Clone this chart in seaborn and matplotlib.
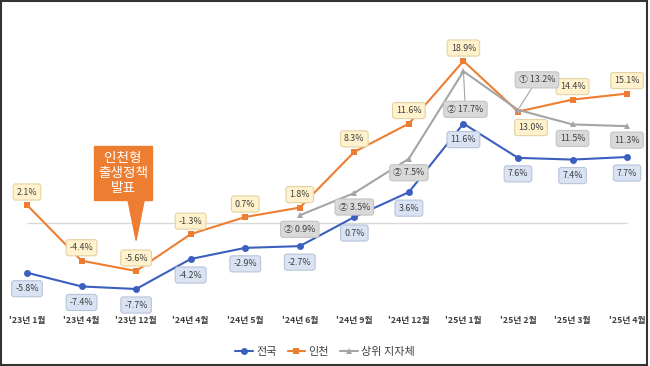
import pandas as pd
import numpy as np
import matplotlib
matplotlib.use("Agg")
import matplotlib.pyplot as plt
import seaborn as sns
from matplotlib.patches import Rectangle

# chart data
months = ["'23년 1월", "'23년 4월", "'23년 12월", "'24년 4월", "'24년 5월", "'24년 6월",
          "'24년 9월", "'24년 12월", "'25년 1월", "'25년 2월", "'25년 3월", "'25년 4월"]
national = [-5.8, -7.4, -7.7, -4.2, -2.9, -2.7, 0.7, 3.6, 11.6, 7.6, 7.4, 7.7]
incheon = [2.1, -4.4, -5.6, -1.3, 0.7, 1.8, 8.3, 11.6, 18.9, 13.0, 14.4, 15.1]
top_region = [np.nan, np.nan, np.nan, np.nan, np.nan, 0.9, 3.5, 7.5, 17.7, 13.2, 11.5, 11.3]
top_rank = ["", "", "", "", "", "②", "②", "②", "②", "①", "", ""]

series_names = ["전국", "인천", "상위 지자체"]
colors = {"전국": "#3A5FBF", "인천": "#ED7D31", "상위 지자체": "#A5A5A5"}
markers = {"전국": "o", "인천": "s", "상위 지자체": "^"}

rows = []
for name, vals in zip(series_names, [national, incheon, top_region]):
    for i, v in enumerate(vals):
        rows.append({"pos": i, "month": months[i], "series": name, "value": v})
df = pd.DataFrame(rows)

sns.set_style("white")
plt.rcParams['font.family'] = ['Noto Sans CJK KR', 'DejaVu Sans']

fig = plt.figure(figsize=(6.5, 3.66), dpi=100)
ax = fig.add_axes([0.0, 1 - 310 / 366, 1.0, 280 / 366])

ax.hlines(0, 0, len(months) - 1, color="#D9D9D9", lw=1, zorder=1)

sns.lineplot(data=df.dropna(), x="pos", y="value", hue="series", style="series",
             hue_order=series_names, style_order=series_names,
             palette=colors, markers=markers, dashes=False, sort=False,
             linewidth=1.5, markersize=5, markeredgewidth=0, ax=ax, zorder=3)

ax.set_xlim(-0.495, 11.42)
ax.set_ylim(-10.15, 22.52)
ax.set_xticks(range(len(months)))
ax.set_xticklabels(months, fontsize=6.3, color="#404040", fontweight="bold")
ax.tick_params(axis="x", length=0, pad=4)
ax.set_yticks([])
ax.set_xlabel("")
ax.set_ylabel("")
for s in ax.spines.values():
    s.set_visible(False)

box_style = {
    "전국": dict(boxstyle="round,pad=0.4,rounding_size=0.3", fc="#DAE3F3", ec="#B8C4D8", lw=0.8),
    "인천": dict(boxstyle="round,pad=0.4,rounding_size=0.3", fc="#FFF2CC", ec="#E2D3A4", lw=0.8),
    "상위 지자체": dict(boxstyle="round,pad=0.4,rounding_size=0.3", fc="#D9D9D9", ec="#C4C4C4", lw=0.8),
}

def label(x, v, text, name, dx, dy, leader=False):
    kw = {}
    if leader:
        kw["arrowprops"] = dict(arrowstyle="-", color="#A6A6A6", lw=0.8, shrinkA=0, shrinkB=2)
    ax.annotate(text, (x, v), xytext=(dx * 0.72, -dy * 0.72), textcoords="offset points",
                ha="center", va="center", fontsize=6.4, color="#404040",
                bbox=box_style[name], zorder=5, **kw)

# national labels below
for i, v in enumerate(national):
    label(i, v, f"{v:.1f}%", "전국", 0, 16)

# incheon labels above, except Feb '25 below
for i, v in enumerate(incheon):
    if i == 9:
        label(i, v, f"{v:.1f}%", "인천", 13, 16)
    else:
        label(i, v, f"{v:.1f}%", "인천", 0, -13)

# top region labels
for i, v in enumerate(top_region):
    if np.isnan(v):
        continue
    txt = f"{top_rank[i]} {v:.1f}%".strip()
    if i == 8:
        label(i, v, txt, "상위 지자체", 2, 38, leader=True)
    elif i == 9:
        label(i, v, txt, "상위 지자체", 19, -30, leader=True)
    else:
        label(i, v, txt, "상위 지자체", 0, 14)

# policy announcement callout
ax.annotate("", xy=(2, -2.0), xytext=(2, 3.2),
            arrowprops=dict(arrowstyle="wedge,tail_width=1.3,shrink_factor=0.5",
                            fc="#ED7D31", ec="#ED7D31", shrinkA=0, shrinkB=0), zorder=6)
ax.text(1.76, 5.85, "인천형\n출생정책\n발표", ha="center", va="center", fontsize=9.8,
        color="white", linespacing=1.12, zorder=7,
        bbox=dict(boxstyle="square,pad=0.32", fc="#ED7D31", ec="#ED7D31"))

# legend at bottom
handles, labels = ax.get_legend_handles_labels()
leg = ax.legend(handles, labels, loc="center", bbox_to_anchor=(0.5, 1 - 352 / 366),
                bbox_transform=fig.transFigure, ncol=3, frameon=False, fontsize=8,
                handlelength=1.6, handletextpad=0.3, columnspacing=1.0)
for t in leg.get_texts():
    t.set_color("#404040")

# outer frame
fig.patches.append(Rectangle((0.002, 0.004), 0.993, 0.993, transform=fig.transFigure,
                             fill=False, ec="#333333", lw=1.5))

fig.savefig("out.png", dpi=100)
